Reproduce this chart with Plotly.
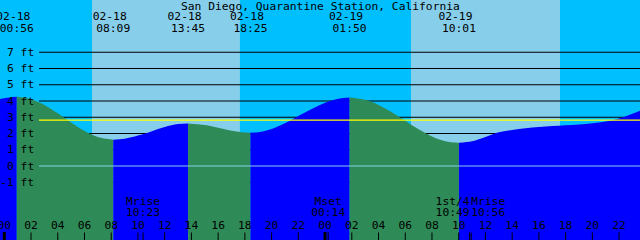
import plotly.graph_objects as go

# ---------------- data ----------------
title_text = "San Diego, Quarantine Station, California"

# hours since 02-18 00:00 and tide height (ft)
tide_hours = [-1.0, 0.0, 0.933, 2, 3, 4, 5, 6, 7, 8.15, 9, 10, 11, 12, 13, 13.75,
              15, 16, 17, 18, 18.417, 19, 20, 21, 22, 23, 24, 25, 25.833,
              27, 28, 29, 30, 31, 32, 33, 34.017, 35, 36, 37, 38, 39, 40, 41,
              42, 43, 44, 45, 46, 47, 48]
tide_ft = [3.98, 4.17, 4.26, 4.11, 3.76, 3.24, 2.68, 2.16, 1.79, 1.62, 1.68, 1.87,
           2.13, 2.40, 2.58, 2.62, 2.52, 2.35, 2.17, 2.06, 2.05, 2.08, 2.28, 2.63,
           3.07, 3.51, 3.89, 4.14, 4.22, 4.07, 3.76, 3.31, 2.79, 2.26, 1.82, 1.53,
           1.43, 1.52, 1.78, 2.07, 2.22, 2.32, 2.40, 2.46, 2.51, 2.56, 2.63, 2.74,
           2.92, 3.22, 3.55]

event_dates = ["02-18", "02-18", "02-18", "02-18", "02-19", "02-19"]
event_times = ["00:56", "08:09", "13:45", "18:25", "01:50", "10:01"]

sunrise_hours = [6.56, 30.43]
sunset_hours = [17.63, 41.58]

moon_names = ["Mset", "Mrise", "Mset", "1st/4", "Mrise"]
moon_dates = ["02-17", "02-18", "02-19", "02-19", "02-19"]
moon_times = ["23:18", "10:23", "00:14", "10:49", "10:56"]
moon_align = ["middle center", "middle center", "middle center", "middle left", "middle right"]

ft_levels = [-1, 0, 1, 2, 3, 4, 5, 6, 7]
datum_ft = 0
msl_ft = 2.82

hour_ticks = list(range(0, 49, 2))
midnights = [0, 24, 48]

# ---------------- style ----------------
NIGHT = "#00BFFF"
DAY = "#87CEEB"
RISE = "#0000FF"
FALL = "#2E8B57"
FONT = "DejaVu Sans Mono"
FS = 11.3
W, H = 640, 240
X_RANGE = [-0.322, 47.565]
Y_RANGE = [-4.554, 10.215]
PX_PER_H = W / (X_RANGE[1] - X_RANGE[0])

# text rows in pixels from top
DATE_ROW, TIME_ROW = 17, 29.5
MOON_ROW1, MOON_ROW2 = 202, 213.5
HOUR_ROW = 226


def to_hours(date, time):
    day = int(date.split("-")[1]) - 18
    hh, mm = time.split(":")
    return day * 24 + int(hh) + int(mm) / 60


event_hours = [to_hours(d, t) for d, t in zip(event_dates, event_times)]
moon_hours = [to_hours(d, t) for d, t in zip(moon_dates, moon_times)]

fig = go.Figure()

# ---- water fill, split at high/low events ----
segments = []
cur_h, cur_f = [], []
for h, f in zip(tide_hours, tide_ft):
    cur_h.append(h)
    cur_f.append(f)
    if any(abs(h - e) < 0.01 for e in event_hours) and len(cur_h) > 1:
        segments.append((cur_h, cur_f))
        cur_h, cur_f = [h], [f]
if len(cur_h) > 1:
    segments.append((cur_h, cur_f))

for sh, sf in segments:
    color = RISE if sf[-1] > sf[0] else FALL
    fig.add_trace(go.Scatter(x=[sh[0], sh[-1]], y=[-6, -6], mode="lines",
                             line=dict(width=0), hoverinfo="skip", showlegend=False))
    fig.add_trace(go.Scatter(x=sh, y=sf, mode="lines",
                             line=dict(width=0, shape="spline", color=color),
                             fill="tonexty", fillcolor=color,
                             hoverinfo="skip", showlegend=False))

# ---- text traces (pixel-row axis y2) ----
date_shift = 3.5 / PX_PER_H
fig.add_trace(go.Scatter(x=[h - date_shift for h in event_hours], y=[DATE_ROW] * len(event_hours),
                         yaxis="y2", mode="text", text=event_dates,
                         textposition="middle center", cliponaxis=False,
                         textfont=dict(family=FONT, size=FS, color="black"),
                         hoverinfo="skip", showlegend=False))
fig.add_trace(go.Scatter(x=event_hours, y=[TIME_ROW] * len(event_hours),
                         yaxis="y2", mode="text", text=event_times,
                         textposition="middle center", cliponaxis=False,
                         textfont=dict(family=FONT, size=FS, color="black"),
                         hoverinfo="skip", showlegend=False))
fig.add_trace(go.Scatter(x=moon_hours, y=[MOON_ROW1] * len(moon_hours),
                         yaxis="y2", mode="text", text=moon_names,
                         textposition=moon_align, cliponaxis=False,
                         textfont=dict(family=FONT, size=FS, color="black"),
                         hoverinfo="skip", showlegend=False))
fig.add_trace(go.Scatter(x=moon_hours, y=[MOON_ROW2] * len(moon_hours),
                         yaxis="y2", mode="text", text=moon_times,
                         textposition=moon_align, cliponaxis=False,
                         textfont=dict(family=FONT, size=FS, color="black"),
                         hoverinfo="skip", showlegend=False))
fig.add_trace(go.Scatter(x=hour_ticks, y=[HOUR_ROW] * len(hour_ticks),
                         yaxis="y2", mode="text", text=["%02d" % (h % 24) for h in hour_ticks],
                         textposition="middle center", cliponaxis=False,
                         textfont=dict(family=FONT, size=FS, color="black"),
                         hoverinfo="skip", showlegend=False))

# ---- shapes ----
shapes = []
for a, b in zip(sunrise_hours, sunset_hours):
    shapes.append(dict(type="rect", xref="x", yref="paper", x0=a, x1=b, y0=0, y1=1,
                       fillcolor=DAY, line=dict(width=0), layer="below"))
for v in ft_levels:
    if v == datum_ft:
        continue
    shapes.append(dict(type="line", xref="paper", yref="y", x0=39 / W, x1=1, y0=v, y1=v,
                       line=dict(color="black", width=1), layer="below"))
shapes.append(dict(type="line", xref="paper", yref="y", x0=39 / W, x1=1, y0=datum_ft, y1=datum_ft,
                   line=dict(color=DAY, width=1), layer="above"))
shapes.append(dict(type="line", xref="paper", yref="y", x0=39 / W, x1=1, y0=msl_ft, y1=msl_ft,
                   line=dict(color="#FFFF00", width=1.2), layer="above"))
for h in hour_ticks:
    shapes.append(dict(type="line", xref="x", yref="paper", x0=h, x1=h, y0=0, y1=7.5 / H,
                       line=dict(color="black", width=1), layer="above"))
for h in midnights:
    shapes.append(dict(type="line", xref="x", yref="paper", x0=h, x1=h, y0=0, y1=8 / H,
                       line=dict(color="black", width=3), layer="above"))
for h in moon_hours:
    shapes.append(dict(type="line", xref="x", yref="paper", x0=h, x1=h, y0=0, y1=7.5 / H,
                       line=dict(color="black", width=1), layer="above"))

# ---- annotations ----
annotations = [dict(text=title_text, xref="paper", yref="paper", x=0.5, y=1 - 6 / H,
                    xanchor="center", yanchor="middle", showarrow=False,
                    font=dict(family=FONT, size=FS, color="black"))]
for v in ft_levels:
    annotations.append(dict(text=f"{v} ft", xref="paper", yref="y", x=36 / W, y=v,
                            xanchor="right", yanchor="middle", showarrow=False,
                            font=dict(family=FONT, size=FS, color="black")))

fig.update_layout(
    width=W, height=H, margin=dict(l=0, r=0, t=0, b=0, pad=0),
    paper_bgcolor=NIGHT, plot_bgcolor=NIGHT,
    xaxis=dict(range=X_RANGE, visible=False, fixedrange=True),
    yaxis=dict(range=Y_RANGE, visible=False, fixedrange=True),
    yaxis2=dict(range=[H, 0], overlaying="y", visible=False, fixedrange=True),
    shapes=shapes, annotations=annotations, showlegend=False,
)

fig.write_html("out.html", config={"displayModeBar": False})
